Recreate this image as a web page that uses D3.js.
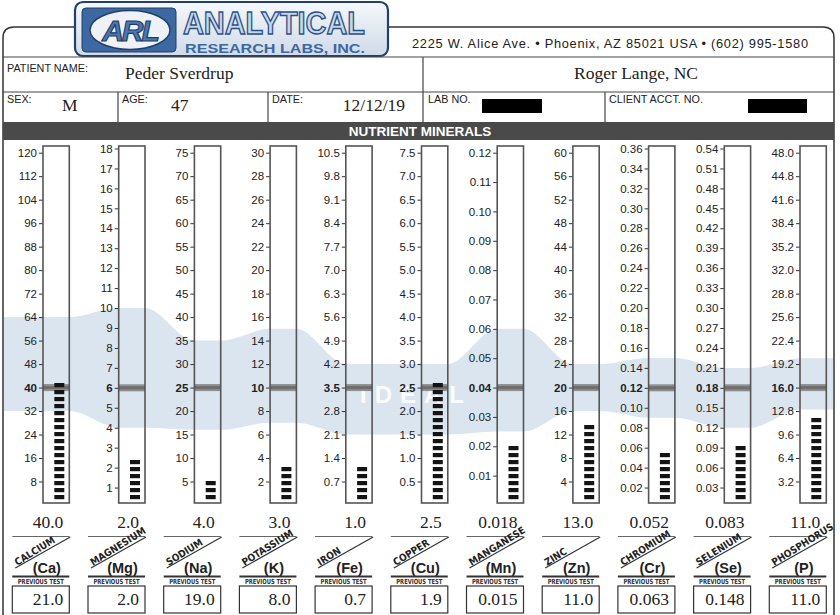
<!DOCTYPE html>
<html lang="en">
<head>
<meta charset="UTF-8">
<title>Nutrient Minerals</title>
<style>
  body { margin: 0; background: #fff; }
  svg { display: block; font-family: "Liberation Sans", Arial, sans-serif; }
  .serif { font-family: "Liberation Serif", "Times New Roman", serif; }
  .narrow { font-family: "Liberation Sans Narrow", "DejaVu Sans Condensed", sans-serif; font-weight: bold; font-stretch: condensed; }
  .axis text { font-size: 11.5px; fill: #222; }
  .axis line { stroke: #333; }
  .label { font-size: 10.8px; fill: #222; }
</style>
</head>
<body>
<svg width="840" height="615"></svg>
<script src="https://d3js.org/d3.v7.min.js"></script>
<script>
// ---- data ----
const symbols  = ["Ca", "Mg", "Na", "K", "Fe", "Cu", "Mn", "Zn", "Cr", "Se", "P"];
const names    = ["CALCIUM", "MAGNESIUM", "SODIUM", "POTASSIUM", "IRON", "COPPER",
                  "MANGANESE", "ZINC", "CHROMIUM", "SELENIUM", "PHOSPHORUS"];
const current  = [40.0, 2.0, 4.0, 3.0, 1.0, 2.5, 0.018, 13.0, 0.052, 0.083, 11.0];
const previous = [21.0, 2.0, 19.0, 8.0, 0.7, 1.9, 0.015, 11.0, 0.063, 0.148, 11.0];
const reference = [40, 6, 25, 10, 3.5, 2.5, 0.04, 20, 0.12, 0.18, 16.0];
const idealLow  = [32, 4, 16, 7, 2.1, 1.5, 0.025, 16, 0.09, 0.12, 13];
const idealHigh = [64, 10, 35, 15, 4.2, 3.0, 0.06, 24, 0.15, 0.21, 20];

const caTicks = [8, 16, 24, 32, 40, 48, 56, 64, 72, 80, 88, 96, 104, 112, 120];
const mgTicks = [1, 2, 3, 4, 5, 6, 7, 8, 9, 10, 11, 12, 13, 14, 15, 16, 17, 18];
const naTicks = [5, 10, 15, 20, 25, 30, 35, 40, 45, 50, 55, 60, 65, 70, 75];
const kTicks  = [2, 4, 6, 8, 10, 12, 14, 16, 18, 20, 22, 24, 26, 28, 30];
const feTicks = [0.7, 1.4, 2.1, 2.8, 3.5, 4.2, 4.9, 5.6, 6.3, 7.0, 7.7, 8.4, 9.1, 9.8, 10.5];
const cuTicks = [0.5, 1.0, 1.5, 2.0, 2.5, 3.0, 3.5, 4.0, 4.5, 5.0, 5.5, 6.0, 6.5, 7.0, 7.5];
const mnTicks = [0.01, 0.02, 0.03, 0.04, 0.05, 0.06, 0.07, 0.08, 0.09, 0.10, 0.11, 0.12];
const znTicks = [4, 8, 12, 16, 20, 24, 28, 32, 36, 40, 44, 48, 52, 56, 60];
const crTicks = [0.02, 0.04, 0.06, 0.08, 0.10, 0.12, 0.14, 0.16, 0.18, 0.20, 0.22, 0.24, 0.26, 0.28, 0.30, 0.32, 0.34, 0.36];
const seTicks = [0.03, 0.06, 0.09, 0.12, 0.15, 0.18, 0.21, 0.24, 0.27, 0.30, 0.33, 0.36, 0.39, 0.42, 0.45, 0.48, 0.51, 0.54];
const pTicks  = [3.2, 6.4, 9.6, 12.8, 16.0, 19.2, 22.4, 25.6, 28.8, 32.0, 35.2, 38.4, 41.6, 44.8, 48.0];
const allTicks = [caTicks, mgTicks, naTicks, kTicks, feTicks, cuTicks, mnTicks, znTicks, crTicks, seTicks, pTicks];

const tickFormats  = ["d", "d", "d", "d", ".1f", ".1f", ".2f", "d", ".2f", ".2f", ".1f"];
const valueFormats = [".1f", ".1f", ".1f", ".1f", ".1f", ".1f", ".3f", ".1f", ".3f", ".3f", ".1f"];

// ---- layout ----
const svg = d3.select("svg");
const boxW = 26.3, boxTop = 146, boxBottom = 503;
const cellW = 57;
const x = d3.scalePoint().domain(symbols).range([43, 800]);

// one vertical scale per mineral
const yScales = allTicks.map(t => {
  const tall = t.length > 15;
  return d3.scaleLinear()
    .domain([0, t[t.length - 1]])
    .range(tall ? [507.5, 148.5] : [505, 152.7]);
});

// ---- header ----
const defs = svg.append("defs");
const grad = defs.append("linearGradient").attr("id", "logoGrad")
  .attr("x1", 0).attr("y1", 0).attr("x2", 0).attr("y2", 1);
grad.append("stop").attr("offset", "0%").attr("stop-color", "#f6f8fb");
grad.append("stop").attr("offset", "100%").attr("stop-color", "#cfdae8");

// outer frame
svg.append("path")
  .attr("d", "M3,615 V38 Q3,27 14,27 H75 M388,27 H823 Q834,27 834,38 V615")
  .attr("fill", "none").attr("stroke", "#333").attr("stroke-width", 1.5);

// logo
const logo = svg.append("g");
logo.append("rect").attr("x", 75).attr("y", 2).attr("width", 313).attr("height", 54)
  .attr("rx", 8).attr("fill", "url(#logoGrad)").attr("stroke", "#21406b").attr("stroke-width", 2.2);
logo.append("rect").attr("x", 82).attr("y", 8).attr("width", 94).attr("height", 44)
  .attr("rx", 4).attr("fill", "#3d68a2").attr("stroke", "#21406b");
logo.append("ellipse").attr("cx", 130).attr("cy", 30).attr("rx", 40).attr("ry", 19.5)
  .attr("fill", "#eef2f7").attr("stroke", "#21406b").attr("stroke-width", 1.5);
logo.append("text").attr("x", 130).attr("y", 41).attr("text-anchor", "middle")
  .attr("font-size", 30).attr("font-weight", "bold").attr("font-style", "italic")
  .attr("letter-spacing", -2)
  .attr("fill", "#4a78b0").attr("stroke", "#1f3d66").attr("stroke-width", 1.2)
  .text("ARL");
logo.append("text").attr("x", 183).attr("y", 34)
  .attr("font-size", 32).attr("font-weight", "bold")
  .attr("textLength", 182).attr("lengthAdjust", "spacingAndGlyphs")
  .attr("fill", "#c8d7ea").attr("stroke", "#2b5288").attr("stroke-width", 1.4)
  .text("ANALYTICAL");
logo.append("text").attr("x", 185).attr("y", 53)
  .attr("font-size", 13).attr("font-weight", "bold")
  .attr("textLength", 180).attr("lengthAdjust", "spacingAndGlyphs")
  .attr("fill", "#3c679f")
  .text("RESEARCH LABS, INC.");

svg.append("text").attr("x", 412).attr("y", 48).attr("font-size", 12.8).attr("fill", "#222")
  .attr("textLength", 396).attr("lengthAdjust", "spacing")
  .text("2225 W. Alice Ave.  •  Phoenix, AZ 85021 USA  •  (602) 995-1580");

// info rows
const lines = [
  [3, 57, 834, 57], [3, 92, 834, 92],
  [423, 57, 423, 122], [118, 92, 118, 122], [268, 92, 268, 122], [605, 92, 605, 122]
];
svg.append("g").selectAll("line").data(lines).join("line")
  .attr("x1", d => d[0]).attr("y1", d => d[1]).attr("x2", d => d[2]).attr("y2", d => d[3])
  .attr("stroke", "#444").attr("stroke-width", 1.2);

const labels = [
  ["PATIENT NAME:", 7, 72], ["SEX:", 7, 103], ["AGE:", 122, 103],
  ["DATE:", 272, 103], ["LAB NO.", 428, 103], ["CLIENT  ACCT. NO.", 609, 103]
];
svg.append("g").selectAll("text").data(labels).join("text")
  .attr("class", "label").attr("x", d => d[1]).attr("y", d => d[2]).text(d => d[0]);

const entries = [
  ["Peder Sverdrup", 125, 79, "start"], ["Roger Lange, NC", 636, 79, "middle"],
  ["M", 62, 111, "start"], ["47", 171, 111, "start"], ["12/12/19", 405, 111, "end"]
];
svg.append("g").selectAll("text").data(entries).join("text")
  .attr("class", "serif").attr("font-size", 17.5).attr("fill", "#222")
  .attr("x", d => d[1]).attr("y", d => d[2]).attr("text-anchor", d => d[3]).text(d => d[0]);

svg.append("rect").attr("x", 482).attr("y", 99).attr("width", 60).attr("height", 14).attr("fill", "#000");
svg.append("rect").attr("x", 748).attr("y", 99).attr("width", 59).attr("height", 14).attr("fill", "#000");

svg.append("rect").attr("x", 3).attr("y", 122).attr("width", 831).attr("height", 18).attr("fill", "#4a4a4a");
svg.append("text").attr("x", 420).attr("y", 136).attr("text-anchor", "middle")
  .attr("font-size", 13.5).attr("font-weight", "bold").attr("fill", "#fff")
  .text("NUTRIENT MINERALS");

// ---- ideal band ----
const bandPts = [];
symbols.forEach((s, i) => {
  const y = yScales[i];
  const xl = i === 0 ? 4 : x(s);
  const xr = i === symbols.length - 1 ? 833 : x(s) + boxW;
  bandPts.push({x: xl, hi: y(idealHigh[i]), lo: y(idealLow[i])});
  bandPts.push({x: xr, hi: y(idealHigh[i]), lo: y(idealLow[i])});
});
const area = d3.area().x(d => d.x).y0(d => d.lo).y1(d => d.hi).curve(d3.curveMonotoneX);
svg.append("path").datum(bandPts).attr("d", area).attr("fill", "#dae5f0");

// faint watermark that sits behind the Fe / Cu / Mn columns
svg.append("text").attr("x", 360).attr("y", 403)
  .attr("font-size", 24).attr("font-weight", "bold").attr("letter-spacing", 8)
  .attr("fill", "#fff").attr("opacity", 0.9)
  .text("IDEAL");

// ---- columns ----
symbols.forEach((s, i) => {
  const y = yScales[i];
  const bx = x(s);
  const g = svg.append("g");
  const ref = reference[i];

  const axis = d3.axisLeft(y).tickValues(allTicks[i]).tickSize(4).tickPadding(2)
    .tickFormat(d3.format(tickFormats[i]));
  const ax = g.append("g").attr("class", "axis").attr("transform", `translate(${bx},0)`).call(axis);
  ax.select(".domain").remove();
  ax.selectAll("text").attr("font-weight", d => Math.abs(d - ref) < 1e-9 ? "bold" : null);

  // reference band
  g.append("rect").attr("x", bx).attr("y", y(ref) - 3.5).attr("width", boxW).attr("height", 7)
    .attr("fill", "#8e8e8e");
  g.append("line").attr("x1", bx).attr("x2", bx + boxW).attr("y1", y(ref)).attr("y2", y(ref))
    .attr("stroke", "#6e6e6e").attr("stroke-width", 3);

  // stacked dashes up to the current value
  const step = 7;
  const n = Math.round((y.range()[0] - y(current[i])) / step);
  g.selectAll(".dash").data(d3.range(n)).join("rect").attr("class", "dash")
    .attr("x", bx + 11.3).attr("y", k => 495 - k * step)
    .attr("width", 10).attr("height", 4.2).attr("fill", "#141414");

  g.append("rect").attr("x", bx).attr("y", boxTop).attr("width", boxW).attr("height", boxBottom - boxTop)
    .attr("fill", "none").attr("stroke", "#555").attr("stroke-width", 1.6);

  // value + label cell
  const right = bx + boxW;
  const cl = right - cellW;
  const fmt = d3.format(valueFormats[i]);
  g.append("text").attr("class", "serif").attr("x", right - 6).attr("y", 528)
    .attr("text-anchor", "end").attr("font-size", 17.5).attr("fill", "#222").text(fmt(current[i]));

  g.append("line").attr("x1", cl).attr("x2", right).attr("y1", 536.5).attr("y2", 536.5)
    .attr("stroke", "#666").attr("stroke-width", 1);
  g.append("line").attr("x1", cl + 3).attr("y1", 568).attr("x2", right + 1).attr("y2", 537)
    .attr("stroke", "#333").attr("stroke-width", 1.2);
  g.append("text").attr("class", "narrow")
    .attr("transform", `translate(${cl + 5},${566}) rotate(-32)`)
    .attr("font-size", 10).attr("fill", "#222").text(names[i]);
  g.append("text").attr("x", cl + cellW / 2 + 6).attr("y", 573).attr("text-anchor", "middle")
    .attr("font-size", 14.5).attr("font-weight", "bold").attr("fill", "#222").text(`(${s})`);
  g.append("line").attr("x1", cl).attr("x2", right).attr("y1", 576.5).attr("y2", 576.5)
    .attr("stroke", "#333").attr("stroke-width", 1.8);
  g.append("text").attr("class", "narrow").attr("x", cl + cellW / 2).attr("y", 583.5)
    .attr("text-anchor", "middle").attr("font-size", 7).attr("fill", "#333")
    .attr("textLength", 46).attr("lengthAdjust", "spacingAndGlyphs").text("PREVIOUS  TEST");
  g.append("rect").attr("x", cl).attr("y", 586).attr("width", cellW).attr("height", 27)
    .attr("fill", "#fff").attr("stroke", "#333").attr("stroke-width", 1.2);
  g.append("text").attr("class", "serif").attr("x", right - 6).attr("y", 605)
    .attr("text-anchor", "end").attr("font-size", 17.5).attr("fill", "#222").text(fmt(previous[i]));
});
</script>
</body>
</html>
